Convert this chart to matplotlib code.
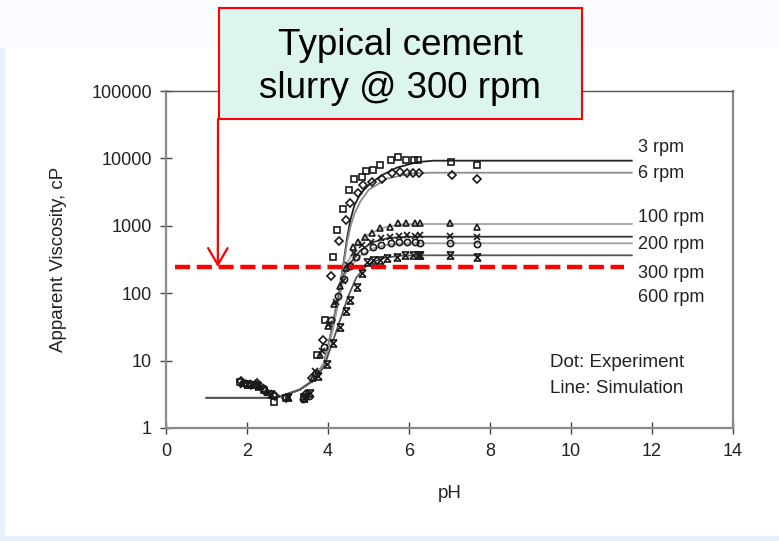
import matplotlib
matplotlib.use("Agg")
import matplotlib.pyplot as plt
from matplotlib.patches import Rectangle
from matplotlib.path import Path

plt.rcParams["font.family"] = ["Liberation Sans", "DejaVu Sans"]

# --- data ---
series = ["3 rpm", "6 rpm", "100 rpm", "200 rpm", "300 rpm", "600 rpm"]

# experiment (dots)
ph_exp_3 = [1.83, 2.07, 2.25, 2.42, 2.67, 2.96, 3.41, 3.73, 3.93, 4.12, 4.22, 4.37, 4.52, 4.64,
            4.84, 4.94, 5.11, 5.28, 5.55, 5.73, 5.93, 6.12, 6.22, 7.04, 7.68]
visc_exp_3 = [4.8, 4.3, 4.4, 3.7, 2.4, 2.8, 2.9, 12, 40, 345, 870, 1780, 3400, 4950,
              5300, 6500, 6700, 8000, 9500, 10500, 9500, 9500, 9500, 8900, 8000]
ph_exp_6 = [1.85, 2.1, 2.25, 2.45, 2.68, 2.96, 3.45, 3.6, 3.88, 4.07, 4.27, 4.44, 4.54, 4.74,
            4.87, 5.09, 5.33, 5.58, 5.78, 5.95, 6.1, 6.25, 7.06, 7.68]
visc_exp_6 = [4.9, 4.4, 4.6, 3.6, 3.0, 2.8, 3.2, 5.5, 20, 180, 590, 1230, 2200, 3100,
              4000, 4500, 4950, 6100, 6300, 6100, 6100, 6000, 5700, 4950]
ph_exp_100 = [1.87, 2.05, 2.3, 2.5, 3.0, 3.45, 3.62, 3.8, 4.0, 4.15, 4.3, 4.45, 4.62, 4.74,
              4.91, 5.09, 5.28, 5.53, 5.73, 5.93, 6.15, 6.27, 7.01, 7.68]
visc_exp_100 = [4.6, 4.5, 4.2, 3.4, 2.9, 3.0, 5.5, 12, 33, 70, 130, 240, 480, 570,
                680, 780, 930, 960, 1100, 1100, 1100, 1100, 1100, 960]
ph_exp_200 = [1.9, 2.15, 2.35, 2.55, 3.02, 3.5, 3.68, 3.85, 4.03, 4.2, 4.36, 4.5, 4.65, 4.85,
              5.05, 5.3, 5.53, 5.75, 5.95, 6.15, 6.27, 7.01, 7.68]
visc_exp_200 = [4.4, 4.6, 4.0, 3.3, 2.8, 3.2, 7, 14, 35, 75, 150, 260, 400, 520,
                580, 650, 690, 700, 720, 700, 720, 700, 680]
ph_exp_300 = [1.95, 2.2, 2.4, 2.65, 3.38, 3.52, 3.7, 3.9, 4.08, 4.25, 4.4, 4.55, 4.7, 4.9,
              5.1, 5.3, 5.55, 5.75, 5.95, 6.15, 6.27, 7.01, 7.68]
visc_exp_300 = [4.7, 4.5, 3.9, 3.1, 2.7, 3.0, 6.5, 16, 40, 90, 160, 250, 350, 430,
                480, 520, 560, 580, 580, 570, 560, 560, 530]
ph_exp_600 = [2.0, 2.28, 2.6, 3.0, 3.4, 3.55, 3.75, 3.97, 4.12, 4.3, 4.45, 4.54, 4.71, 4.85,
              4.96, 5.1, 5.28, 5.45, 5.7, 5.9, 6.1, 6.22, 6.27, 7.01, 7.68]
visc_exp_600 = [4.5, 4.2, 3.2, 2.9, 2.8, 3.3, 6, 9, 18, 31, 55, 80, 124, 200,
                290, 310, 310, 330, 345, 365, 365, 370, 365, 365, 345]

# simulation (lines)
ph_sim_3 = [1.0, 2.7, 3.0, 3.3, 3.6, 3.9, 4.1, 4.25, 4.37, 4.47, 4.55, 4.65, 4.8, 5.0,
            5.3, 5.7, 6.2, 6.6, 11.5]
visc_sim_3 = [2.8, 2.8, 3.2, 3.7, 4.9, 9, 30, 90, 245, 650, 1200, 2000, 3000, 4000,
              5500, 7300, 8800, 9250, 9250]
ph_sim_6 = [1.0, 2.7, 3.0, 3.3, 3.6, 3.9, 4.1, 4.25, 4.37, 4.47, 4.55, 4.65, 4.8, 5.0,
            5.45, 6.0, 6.5, 11.5]
visc_sim_6 = [2.8, 2.8, 3.2, 3.7, 4.9, 9, 30, 90, 230, 560, 950, 1500, 2300, 3400,
              5000, 5900, 6130, 6130]
ph_sim_100 = [1.0, 2.7, 3.0, 3.3, 3.6, 3.9, 4.1, 4.25, 4.4, 4.5, 4.7, 5.0, 5.4, 5.8, 6.2, 11.5]
visc_sim_100 = [2.8, 2.8, 3.2, 3.7, 4.9, 9, 28, 80, 200, 300, 500, 750, 950, 1050, 1063, 1063]
ph_sim_200 = [1.0, 2.7, 3.0, 3.3, 3.6, 3.9, 4.1, 4.25, 4.4, 4.55, 4.8, 5.1, 5.5, 6.0, 11.5]
visc_sim_200 = [2.8, 2.8, 3.2, 3.7, 4.9, 9, 27, 75, 190, 280, 430, 570, 660, 689, 689]
ph_sim_300 = [1.0, 2.7, 3.0, 3.3, 3.6, 3.9, 4.1, 4.25, 4.4, 4.55, 4.8, 5.1, 5.5, 6.0, 11.5]
visc_sim_300 = [2.8, 2.8, 3.2, 3.7, 4.9, 9, 26, 70, 180, 250, 360, 460, 530, 550, 550]
ph_sim_600 = [1.0, 2.7, 3.0, 3.3, 3.6, 3.9, 4.1, 4.3, 4.5, 4.7, 4.9, 5.1, 5.4, 5.8, 6.2, 11.5]
visc_sim_600 = [2.8, 2.8, 3.2, 3.7, 4.9, 8, 18, 40, 90, 170, 240, 290, 335, 360, 365, 365]

# 300 rpm reference line
ref_visc = 245
ref_ph = [0.22, 11.3]
arrow_ph = 1.28

y_ticks = [1, 10, 100, 1000, 10000, 100000]
x_ticks = [0, 2, 4, 6, 8, 10, 12, 14]
label_visc = [14750, 6070, 1306, 519, 199, 85]

# X with bars on top and bottom
bar_x = Path([(-1, 1), (1, 1), (-1, -1), (1, -1), (-1, 1), (1, -1), (-1, -1), (1, 1)],
             [Path.MOVETO, Path.LINETO, Path.MOVETO, Path.LINETO,
              Path.MOVETO, Path.LINETO, Path.MOVETO, Path.LINETO])

exp_data = [(ph_exp_3, visc_exp_3, "s", 4.5), (ph_exp_6, visc_exp_6, "D", 4),
            (ph_exp_100, visc_exp_100, "^", 5), (ph_exp_200, visc_exp_200, "x", 5),
            (ph_exp_300, visc_exp_300, "o", 4.5), (ph_exp_600, visc_exp_600, bar_x, 5)]
sim_data = [(ph_sim_3, visc_sim_3, "#222222"), (ph_sim_6, visc_sim_6, "#8c8c8c"),
            (ph_sim_100, visc_sim_100, "#a0a0a0"), (ph_sim_200, visc_sim_200, "#333333"),
            (ph_sim_300, visc_sim_300, "#a0a0a0"), (ph_sim_600, visc_sim_600, "#555555")]

fig = plt.figure(figsize=(7.79, 5.41), dpi=100, facecolor="#e8f0fc")
W, H = 779, 541
fig.add_artist(Rectangle((0, 1 - 48 / H), 1, 48 / H, transform=fig.transFigure,
                         fc="#fafcff", ec="none", zorder=-2))
fig.add_artist(Rectangle((5 / W, 1 - 536 / H), 1 - 5 / W, (536 - 48) / H,
                         transform=fig.transFigure, fc="white", ec="none", zorder=-2))

ax = fig.add_axes([166 / W, 1 - 428 / H, 567 / W, 337 / H])
ax.set_yscale("log")
ax.set_xlim(0, 14)
ax.set_ylim(1, 100000)

for ph, visc, color in sim_data:
    ax.plot(ph, visc, color=color, lw=1.3, zorder=2)
for ph, visc, mk, ms in exp_data:
    ax.plot(ph, visc, ls="none", marker=mk, ms=ms, mfc="none", mec="#1a1a1a", mew=1.2, zorder=3)

ax.plot(ref_ph, [ref_visc, ref_visc], color="#ff0000", lw=3.2, dashes=(3.4, 1.5), zorder=4)

for name, v in zip(series, label_visc):
    ax.text(11.65, v, name, fontsize=13, va="center", ha="left", color="#222222")
ax.text(11.13, 9.5, "Dot: Experiment", fontsize=13.5, ha="center", va="center", color="#222222")
ax.text(11.13, 3.8, "Line: Simulation", fontsize=13.5, ha="center", va="center", color="#222222")

ax.set_xticks(x_ticks)
ax.set_yticks(y_ticks)
ax.set_yticklabels([str(t) for t in y_ticks])
ax.minorticks_off()
ax.tick_params(axis="both", direction="inout", length=8, width=1, color="#444444",
               labelsize=13, labelcolor="#222222")
ax.tick_params(axis="x", pad=7)
ax.tick_params(axis="y", pad=6)
for side in ["left", "bottom", "right"]:
    ax.spines[side].set_color("#8a8a8a")
    ax.spines[side].set_linewidth(1.6)
ax.spines["top"].set_color("#555555")
ax.spines["top"].set_linewidth(1.0)

ax.set_xlabel("pH", fontsize=13.5, color="#222222")
ax.set_ylabel("Apparent Viscosity, cP", fontsize=13.5, color="#222222")
ax.xaxis.set_label_coords(0.5, -0.17)
ax.yaxis.set_label_coords(-0.175, 0.5)

# title box and arrow
fig.add_artist(Rectangle((219 / W, 1 - 119 / H), 363 / W, 111 / H, transform=fig.transFigure,
                         fc="#dcf5ef", ec="#ff0000", lw=1.5, zorder=5))
fig.text(400 / W, 1 - 67 / H, "Typical cement\nslurry @ 300 rpm", fontsize=26.5,
         ha="center", va="center", linespacing=1.3, color="black", zorder=6)
ax.annotate("", xy=(arrow_ph, ref_visc), xycoords="data",
            xytext=(218, H - 119), textcoords="figure pixels",
            arrowprops=dict(arrowstyle="->,head_length=1.2,head_width=0.7", color="#ff0000",
                            lw=1.6, shrinkA=0, shrinkB=0), zorder=4)

plt.savefig("out.png", dpi=100, facecolor=fig.get_facecolor())
